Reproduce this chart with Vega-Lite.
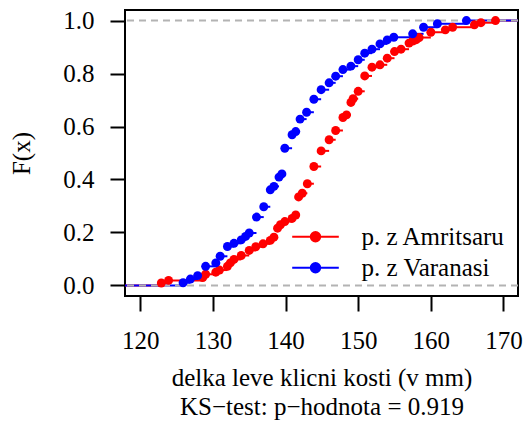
{
  "$schema": "https://vega.github.io/schema/vega-lite/v6.json",
  "width": 393,
  "height": 286,
  "autosize": "none",
  "padding": {"left": 125, "top": 10, "right": 7, "bottom": 126},
  "background": "white",
  "config": {
    "font": "Liberation Serif",
    "view": {"stroke": "black", "strokeWidth": 2}
  },
  "datasets": {
    "ecdf": [
      {"g": "p. z Amritsaru", "x": 122.9, "F": 0.009},
      {"g": "p. z Amritsaru", "x": 123.9, "F": 0.019},
      {"g": "p. z Amritsaru", "x": 128.6, "F": 0.030},
      {"g": "p. z Amritsaru", "x": 129.0, "F": 0.042},
      {"g": "p. z Amritsaru", "x": 130.4, "F": 0.050},
      {"g": "p. z Amritsaru", "x": 130.9, "F": 0.058},
      {"g": "p. z Amritsaru", "x": 132.0, "F": 0.072},
      {"g": "p. z Amritsaru", "x": 132.4, "F": 0.085},
      {"g": "p. z Amritsaru", "x": 132.9, "F": 0.098},
      {"g": "p. z Amritsaru", "x": 133.9, "F": 0.113},
      {"g": "p. z Amritsaru", "x": 135.0, "F": 0.132},
      {"g": "p. z Amritsaru", "x": 135.9, "F": 0.146},
      {"g": "p. z Amritsaru", "x": 136.9, "F": 0.157},
      {"g": "p. z Amritsaru", "x": 137.9, "F": 0.170},
      {"g": "p. z Amritsaru", "x": 138.4, "F": 0.182},
      {"g": "p. z Amritsaru", "x": 138.9, "F": 0.216},
      {"g": "p. z Amritsaru", "x": 139.3, "F": 0.229},
      {"g": "p. z Amritsaru", "x": 139.9, "F": 0.241},
      {"g": "p. z Amritsaru", "x": 140.9, "F": 0.253},
      {"g": "p. z Amritsaru", "x": 141.4, "F": 0.266},
      {"g": "p. z Amritsaru", "x": 141.8, "F": 0.334},
      {"g": "p. z Amritsaru", "x": 142.3, "F": 0.348},
      {"g": "p. z Amritsaru", "x": 143.0, "F": 0.384},
      {"g": "p. z Amritsaru", "x": 143.9, "F": 0.449},
      {"g": "p. z Amritsaru", "x": 144.9, "F": 0.508},
      {"g": "p. z Amritsaru", "x": 146.0, "F": 0.550},
      {"g": "p. z Amritsaru", "x": 146.9, "F": 0.585},
      {"g": "p. z Amritsaru", "x": 147.9, "F": 0.634},
      {"g": "p. z Amritsaru", "x": 148.4, "F": 0.644},
      {"g": "p. z Amritsaru", "x": 149.0, "F": 0.691},
      {"g": "p. z Amritsaru", "x": 149.3, "F": 0.705},
      {"g": "p. z Amritsaru", "x": 150.0, "F": 0.733},
      {"g": "p. z Amritsaru", "x": 150.9, "F": 0.791},
      {"g": "p. z Amritsaru", "x": 151.9, "F": 0.824},
      {"g": "p. z Amritsaru", "x": 153.0, "F": 0.833},
      {"g": "p. z Amritsaru", "x": 154.0, "F": 0.858},
      {"g": "p. z Amritsaru", "x": 155.0, "F": 0.883},
      {"g": "p. z Amritsaru", "x": 155.9, "F": 0.892},
      {"g": "p. z Amritsaru", "x": 157.0, "F": 0.915},
      {"g": "p. z Amritsaru", "x": 157.5, "F": 0.923},
      {"g": "p. z Amritsaru", "x": 158.0, "F": 0.928},
      {"g": "p. z Amritsaru", "x": 158.4, "F": 0.936},
      {"g": "p. z Amritsaru", "x": 160.0, "F": 0.956},
      {"g": "p. z Amritsaru", "x": 162.0, "F": 0.965},
      {"g": "p. z Amritsaru", "x": 163.0, "F": 0.975},
      {"g": "p. z Amritsaru", "x": 166.0, "F": 0.984},
      {"g": "p. z Amritsaru", "x": 166.9, "F": 0.992},
      {"g": "p. z Amritsaru", "x": 168.9, "F": 1.0},
      {"g": "p. z Varanasi", "x": 125.9, "F": 0.010},
      {"g": "p. z Varanasi", "x": 126.9, "F": 0.024},
      {"g": "p. z Varanasi", "x": 127.9, "F": 0.037},
      {"g": "p. z Varanasi", "x": 129.0, "F": 0.072},
      {"g": "p. z Varanasi", "x": 130.4, "F": 0.085},
      {"g": "p. z Varanasi", "x": 131.0, "F": 0.110},
      {"g": "p. z Varanasi", "x": 132.0, "F": 0.147},
      {"g": "p. z Varanasi", "x": 132.9, "F": 0.159},
      {"g": "p. z Varanasi", "x": 133.9, "F": 0.172},
      {"g": "p. z Varanasi", "x": 134.5, "F": 0.185},
      {"g": "p. z Varanasi", "x": 135.0, "F": 0.198},
      {"g": "p. z Varanasi", "x": 136.0, "F": 0.258},
      {"g": "p. z Varanasi", "x": 137.0, "F": 0.297},
      {"g": "p. z Varanasi", "x": 137.9, "F": 0.361},
      {"g": "p. z Varanasi", "x": 138.4, "F": 0.374},
      {"g": "p. z Varanasi", "x": 139.1, "F": 0.409},
      {"g": "p. z Varanasi", "x": 139.5, "F": 0.421},
      {"g": "p. z Varanasi", "x": 139.9, "F": 0.518},
      {"g": "p. z Varanasi", "x": 140.9, "F": 0.569},
      {"g": "p. z Varanasi", "x": 141.4, "F": 0.581},
      {"g": "p. z Varanasi", "x": 142.0, "F": 0.628},
      {"g": "p. z Varanasi", "x": 142.9, "F": 0.654},
      {"g": "p. z Varanasi", "x": 143.9, "F": 0.703},
      {"g": "p. z Varanasi", "x": 144.9, "F": 0.739},
      {"g": "p. z Varanasi", "x": 146.0, "F": 0.765},
      {"g": "p. z Varanasi", "x": 146.9, "F": 0.790},
      {"g": "p. z Varanasi", "x": 147.9, "F": 0.815},
      {"g": "p. z Varanasi", "x": 149.0, "F": 0.828},
      {"g": "p. z Varanasi", "x": 150.0, "F": 0.852},
      {"g": "p. z Varanasi", "x": 150.9, "F": 0.877},
      {"g": "p. z Varanasi", "x": 151.9, "F": 0.892},
      {"g": "p. z Varanasi", "x": 153.0, "F": 0.912},
      {"g": "p. z Varanasi", "x": 154.0, "F": 0.927},
      {"g": "p. z Varanasi", "x": 154.9, "F": 0.937},
      {"g": "p. z Varanasi", "x": 157.5, "F": 0.950},
      {"g": "p. z Varanasi", "x": 159.0, "F": 0.975},
      {"g": "p. z Varanasi", "x": 160.9, "F": 0.988},
      {"g": "p. z Varanasi", "x": 164.9, "F": 1.0}
    ],
    "ends": [
      {"g": "p. z Amritsaru", "x": 117.9, "x2": 122.9, "F": 0},
      {"g": "p. z Amritsaru", "x": 168.9, "x2": 172.0, "F": 1},
      {"g": "p. z Varanasi", "x": 117.9, "x2": 125.9, "F": 0},
      {"g": "p. z Varanasi", "x": 164.9, "x2": 172.0, "F": 1}
    ],
    "ref": [{"h": 0}, {"h": 1}]
  },
  "layer": [
    {
      "data": {"name": "ends"},
      "mark": {"type": "rule", "strokeWidth": 2},
      "encoding": {
        "x": {
          "field": "x", "type": "quantitative",
          "scale": {"domain": [117.9, 172.0], "nice": false, "zero": false},
          "axis": {
            "values": [120, 130, 140, 150, 160, 170],
            "format": "d",
            "title": ["delka leve klicni kosti (v mm)", "KS−test: p−hodnota = 0.919"],
            "domain": false,
            "grid": false,
            "tickColor": "black",
            "tickWidth": 2,
            "tickSize": 15,
            "labelFont": "Liberation Serif",
            "labelFontSize": 25,
            "labelColor": "black",
            "labelFlush": false,
            "labelOverlap": false,
            "titleFont": "Liberation Serif",
            "titleFontSize": 25,
            "titleFontWeight": "normal",
            "titleColor": "black",
            "labelPadding": 17,
            "titlePadding": 12,
            "titleLineHeight": 29
          }
        },
        "x2": {"field": "x2"},
        "y": {
          "field": "F", "type": "quantitative",
          "scale": {"domain": [-0.04, 1.04], "nice": false, "zero": false},
          "axis": {
            "values": [0, 0.2, 0.4, 0.6, 0.8, 1.0],
            "format": ".1f",
            "title": "F(x)",
            "domain": false,
            "grid": false,
            "tickColor": "black",
            "tickWidth": 2,
            "tickSize": 15,
            "labelFont": "Liberation Serif",
            "labelFontSize": 25,
            "labelColor": "black",
            "labelFlush": false,
            "labelOverlap": false,
            "titleFont": "Liberation Serif",
            "titleFontSize": 25,
            "titleFontWeight": "normal",
            "titleColor": "black",
            "labelPadding": 16,
            "titlePadding": 28
          }
        },
        "color": {
          "field": "g", "type": "nominal",
          "scale": {"domain": ["p. z Amritsaru", "p. z Varanasi"], "range": ["#ff0000", "#0000ff"]},
          "legend": {
            "title": null,
            "orient": "none",
            "legendX": 178,
            "legendY": 214.3,
            "symbolType": "M-4.66,0L4.66,0M0.94,0A0.94,0.94,0,1,1,-0.94,0A0.94,0.94,0,1,1,0.94,0Z",
            "symbolSize": 100,
            "symbolStrokeWidth": 2,
            "symbolOpacity": 1,
            "labelOffset": 33.5,
            "rowPadding": 5,
            "padding": 0,
            "labelFont": "Liberation Serif",
            "labelFontSize": 25,
            "labelColor": "black",
            "encode": {
              "symbols": {"update": {"stroke": {"scale": "color", "field": "value"}, "fill": {"scale": "color", "field": "value"}, "strokeWidth": {"value": 2}}}
            }
          }
        }
      }
    },
    {
      "data": {"name": "ecdf"},
      "transform": [
        {"window": [{"op": "lead", "field": "x", "as": "xn"}], "groupby": ["g"], "sort": [{"field": "x"}]},
        {"filter": "datum.xn != null"}
      ],
      "mark": {"type": "rule", "strokeWidth": 2},
      "encoding": {
        "x": {"field": "x", "type": "quantitative"},
        "x2": {"field": "xn"},
        "y": {"field": "F", "type": "quantitative"},
        "color": {"field": "g", "type": "nominal"}
      }
    },
    {
      "data": {"name": "ref"},
      "mark": {"type": "rule", "color": "#b3b3b3", "strokeDash": [7, 5], "strokeWidth": 2},
      "encoding": {"y": {"field": "h", "type": "quantitative"}}
    },
    {
      "data": {"name": "ecdf"},
      "mark": {"type": "point", "filled": true, "size": 80, "opacity": 1},
      "encoding": {
        "x": {"field": "x", "type": "quantitative"},
        "y": {"field": "F", "type": "quantitative"},
        "color": {"field": "g", "type": "nominal"}
      }
    }
  ]
}
